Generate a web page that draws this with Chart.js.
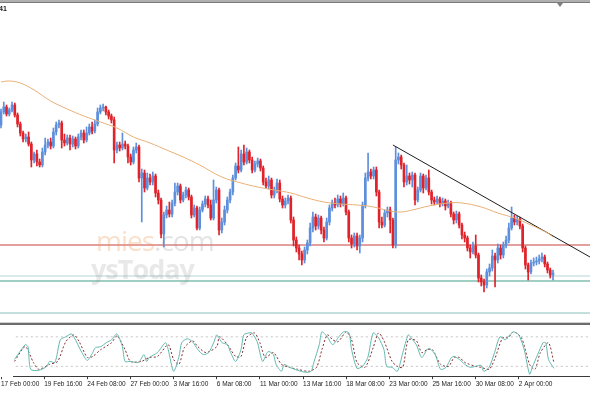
<!DOCTYPE html>
<html>
<head>
<meta charset="utf-8">
<script src="https://cdn.jsdelivr.net/npm/chart.js@4.4.0/dist/chart.umd.min.js"></script>
<style>
  html, body { margin: 0; padding: 0; background: #fff; }
  #wrap { position: relative; width: 590px; height: 393px; overflow: hidden; background: #fff; font-family: "Liberation Sans", Arial, sans-serif; }
  #topbar { position: absolute; left: 0; top: 0; width: 590px; height: 2px; background: #b0b0b0; border-bottom: 1px solid #7a7a7a; }
  #shift { position: absolute; left: 557px; top: 3px; width: 0; height: 0; border-left: 3px solid transparent; border-right: 3px solid transparent; border-top: 4px solid #808080; }
  #sym { position: absolute; left: -1px; top: 5px; font-size: 7px; font-weight: bold; color: #222; }
  #mainBox { position: absolute; left: 0; top: 3px; width: 590px; height: 319px; }
  #sep { position: absolute; left: 0; top: 322px; width: 590px; height: 1px; background: #d0d0d0; border-bottom: 2px solid #6c6c6c; }
  #stochBox { position: absolute; left: 0; top: 326px; width: 590px; height: 67px; }
  .wm { position: absolute; white-space: nowrap; pointer-events: none; font-family: "Open Sans", "Liberation Sans", sans-serif; }
  #wm1 { left: 96px; top: 221px; font-size: 28px; letter-spacing: -1px; }
  #wm1 .a { color: rgba(240, 150, 80, 0.3); }
  #wm1 .b { color: rgba(150, 150, 150, 0.26); }
  #wm2 { left: 91px; top: 250px; font-size: 27px; font-weight: bold; letter-spacing: -1px; color: rgba(140, 140, 140, 0.2); }
</style>
</head>
<body>
<div id="wrap">
  <div id="mainBox"><canvas id="mainChart" width="590" height="319"></canvas></div>
  <div class="wm" id="wm1"><span class="a">mies</span><span class="b">.com</span></div>
  <div class="wm" id="wm2">ysToday</div>
  <div id="topbar"></div>
  <div id="shift"></div>
  <div id="sym">41</div>
  <div id="sep"></div>
  <div id="stochBox"><canvas id="stochChart" width="590" height="67"></canvas></div>
</div>
<script>
// H4 candles, prices in chart units (higher = up)
const firstOpen = 275;
const closes = [288,293,286,290,295,285,276,267,261,263,
  256,240,246,238,235,248,255,258,254,268,
  275,277,260,257,262,256,261,254,263,267,
  260,267,273,269,276,288,292,293,288,284,
  280,250,255,252,256,254,243,238,250,253,
  222,227,212,222,218,224,207,200,166,185,
  190,186,197,208,214,200,205,210,203,185,
  192,172,190,196,201,195,182,200,210,170,
  178,190,200,208,222,234,230,246,238,248,
  240,230,236,239,232,218,214,220,205,210,
  217,201,195,199,202,180,160,152,146,140,
  150,157,172,183,174,182,170,162,178,192,
  197,195,201,196,202,188,162,156,164,154,
  162,195,222,228,224,230,208,178,175,187,
  190,180,155,240,243,235,218,224,220,225,
  200,210,224,212,222,208,200,198,201,196,
  199,194,197,186,180,186,175,165,162,152,
  148,154,145,122,118,115,128,132,144,140,
  152,145,155,160,172,182,178,181,174,152,
  135,128,137,138,139,141,143,136,130,125,
  127];
const highs = [291,298,295,292,298,297,287,278,269,266,
  268,258,248,250,241,252,262,261,262,272,
  278,280,279,266,265,265,264,263,266,270,
  270,273,276,278,280,292,295,296,294,290,
  286,283,258,258,267,259,256,246,253,257,
  255,231,230,227,226,228,226,210,202,188,
  194,198,200,217,217,216,208,213,212,205,
  195,194,193,199,204,204,200,220,213,212,
  182,194,203,211,225,237,253,250,255,252,
  250,243,239,242,241,234,222,224,222,213,
  221,220,204,202,205,204,183,163,155,149,
  153,160,177,188,186,185,184,173,182,195,
  200,202,205,204,207,204,190,165,167,167,
  165,198,227,247,231,233,233,210,183,190,
  193,193,182,253,247,245,237,235,227,228,
  227,213,227,226,225,230,210,203,204,203,
  202,201,200,199,188,189,188,177,168,164,
  155,158,165,147,125,121,131,136,150,147,
  156,155,158,164,177,193,185,184,183,176,
  154,137,140,142,143,145,147,145,138,132,
  130];
const lows = [272,286,284,284,288,283,273,264,258,258,
  254,233,237,234,233,233,245,252,251,252,
  265,272,252,254,255,250,253,251,252,260,
  257,258,265,266,267,274,286,289,285,281,
  277,237,247,249,250,251,237,235,236,247,
  218,178,208,210,215,215,203,196,162,153,
  182,183,183,194,205,197,198,202,200,182,
  183,170,170,188,193,192,180,180,197,165,
  167,175,187,197,205,220,227,228,235,236,
  237,227,228,233,229,215,212,211,202,202,
  207,198,192,192,196,177,154,148,140,135,
  137,146,154,168,170,171,166,158,160,175,
  189,192,193,193,194,185,158,152,153,150,
  147,158,192,219,221,221,204,172,172,173,
  183,167,152,152,236,231,213,215,216,213,
  195,198,208,207,210,205,196,195,196,193,
  194,190,192,183,176,177,172,161,158,149,
  142,146,142,118,114,108,112,124,129,113,
  137,141,142,152,157,170,175,175,171,148,
  131,120,126,134,135,136,138,133,127,122,
  120];

// moving average (bar index, value)
const maIdx = [0,3,7,12,18,24,30,36,42,48,54,60,66,72,80,87,93,99,105,111,117,123,129,135,141,145,149,155,162,167,174,180,186,192,198,200];
const maVal = [318,319,317,310,299,291,284,278,272,263,257,250,243,235,223,217,213,210,207,202,198,196,195,193,189,188,190,194,197,197,193,187,182,175,167,163];

// drawn objects
const trendIdx = [142, 213.4];
const trendVal = [255, 143];
const redLevel = 155;
const greenLevels = [124, 119, 87];

// stochastic %K and %D
const kIdx = [0,2,4,5,6,9,12,13,15,17,19,21,22,25,27,29,30,32,34,36,38,40,41,43,46,48,49,50,53,56,57,59,61,62,64,66,68,70,72,74,75,77,79,80,82,84,85,87,88,90,92,94,96,97,99,100,102,105,108,110,111,113,114,116,118,120,122,124,125,127,129,131,133,135,137,138,140,142,144,146,147,149,151,153,154,156,158,160,162,163,165,167,169,171,173,174,176,178,180,182,183,185,187,189,191,192,194,196,197,198,200];
const kVal = [34,50,64,60,14,12,20,30,28,74,80,86,80,48,32,48,58,60,68,74,86,60,30,30,28,44,30,38,48,68,54,10,40,68,76,70,54,44,48,70,84,68,64,50,30,54,84,88,88,70,30,50,44,24,10,24,18,12,8,10,28,64,90,80,64,78,90,88,54,16,20,38,88,78,54,20,18,10,48,84,78,64,38,54,56,44,14,18,38,40,34,24,18,20,22,10,18,48,80,74,80,90,84,54,4,18,44,68,68,34,16];
const dIdx = [0,4,7,9,13,16,19,22,24,27,29,32,36,38,41,43,47,50,53,57,59,61,63,66,68,71,75,76,79,82,84,86,89,91,93,96,99,102,105,109,112,114,116,118,120,123,125,127,130,133,135,137,140,142,144,146,149,151,153,155,158,161,163,165,167,171,173,176,178,181,183,185,188,191,193,195,198,200];
const dVal = [30,60,28,14,24,30,70,84,70,38,40,54,68,82,54,30,30,38,40,64,34,24,58,72,60,48,60,80,64,40,40,78,88,68,38,48,24,18,14,10,18,54,84,74,70,90,74,28,18,58,88,72,30,20,18,74,72,48,54,54,24,20,38,38,28,20,18,14,34,78,78,90,78,24,14,48,68,28];
const stochLevels = [80, 20];

// time axis
const tickIdx = [-5,11,27,43,59,75,91,107,123,139,155,171,187];
const tickLabels = ['17 Feb 00:00','19 Feb 16:00','24 Feb 08:00','27 Feb 00:00','3 Mar 16:00','6 Mar 08:00','11 Mar 00:00','13 Mar 16:00','18 Mar 08:00','23 Mar 00:00','25 Mar 16:00','30 Mar 08:00','2 Apr 00:00'];

const UP = '#5d8fdc';
const DOWN = '#e0232a';
const X_MIN = -0.36, X_MAX = 213.4;

const opens = closes.map((c, i) => i === 0 ? firstOpen : closes[i - 1]);
const colors = closes.map((c, i) => c >= opens[i] ? UP : DOWN);
const pts = (xs, ys) => xs.map((x, i) => ({ x: x, y: ys[i] }));
const hline = (v) => [{ x: X_MIN - 1, y: v }, { x: X_MAX + 1, y: v }];

const lineDs = (data, color, extra) => Object.assign({
    type: 'line', data: data, borderColor: color, borderWidth: 1,
    pointRadius: 0, fill: false, tension: 0
}, extra);

new Chart(document.getElementById('mainChart'), {
    type: 'bar',
    data: {
        datasets: [
            lineDs(pts(maIdx, maVal), '#e8b075', { order: 0, tension: 0.4 }),
            lineDs(pts(trendIdx, trendVal), '#1e1e1e', { order: 0 }),
            {
                data: closes.map((c, i) => ({ x: i, y: [opens[i], c] })),
                backgroundColor: colors, barThickness: 2, minBarLength: 1,
                grouped: false, order: 1
            },
            {
                data: closes.map((c, i) => ({ x: i, y: [lows[i], highs[i]] })),
                backgroundColor: colors, barThickness: 1,
                grouped: false, order: 2
            },
            lineDs(hline(redLevel), '#c8403f', { order: 3 }),
            lineDs(hline(greenLevels[0]), '#b5d3d3', { order: 3 }),
            lineDs(hline(greenLevels[1]), '#7fbfae', { order: 3, borderWidth: 1.5 }),
            lineDs(hline(greenLevels[2]), '#86c0b8', { order: 3 })
        ]
    },
    options: {
        responsive: false,
        animation: false,
        events: [],
        layout: { padding: 0, autoPadding: false },
        plugins: { legend: { display: false }, tooltip: { enabled: false } },
        scales: {
            x: { type: 'linear', min: X_MIN, max: X_MAX, offset: false, display: false },
            y: { min: 78, max: 397, display: false }
        }
    }
});

new Chart(document.getElementById('stochChart'), {
    type: 'line',
    data: {
        datasets: [
            lineDs(pts(kIdx, kVal), '#63b9b0', { tension: 0.25 }),
            lineDs(pts(dIdx, dVal), '#8a2f2f', { tension: 0.25, borderDash: [2, 2] }),
            lineDs(hline(stochLevels[0]), '#c4c4c4', { borderDash: [2, 3] }),
            lineDs(hline(stochLevels[1]), '#c4c4c4', { borderDash: [2, 3] })
        ]
    },
    options: {
        responsive: false,
        animation: false,
        events: [],
        layout: { padding: { top: 0, left: 0, right: 0, bottom: 4 }, autoPadding: false },
        plugins: { legend: { display: false }, tooltip: { enabled: false } },
        scales: {
            x: {
                type: 'linear', min: X_MIN, max: X_MAX, offset: false,
                afterBuildTicks: (s) => { s.ticks = tickIdx.map(v => ({ value: v })); },
                grid: { drawOnChartArea: false, drawTicks: true, tickLength: 3, color: '#3a3a3a' },
                border: { display: true, color: '#3a3a3a' },
                ticks: {
                    autoSkip: false, maxRotation: 0, align: 'start', padding: 1,
                    color: '#222', font: { family: 'Liberation Sans', size: 6.5 },
                    callback: (v, i) => tickLabels[i]
                }
            },
            y: { min: 0, max: 102, display: false }
        }
    }
});
</script>
</body>
</html>
